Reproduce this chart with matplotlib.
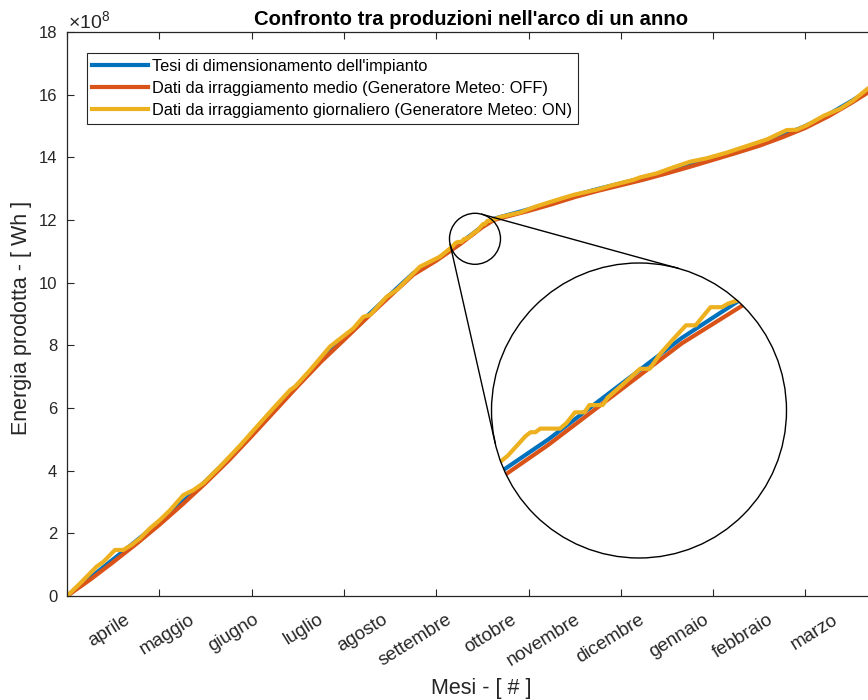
import matplotlib
matplotlib.use('Agg')
import matplotlib.pyplot as plt
from matplotlib.patches import Circle, Ellipse
from matplotlib.lines import Line2D
import numpy as np

plt.rcParams['font.family'] = ['Liberation Sans', 'DejaVu Sans']
plt.rcParams['mathtext.fontset'] = 'custom'
plt.rcParams['mathtext.rm'] = 'Liberation Sans'

# ore dal 1 aprile, energia cumulata in 1e8 Wh
ore = [0, 250, 500, 750, 1000, 1250, 1500, 1750, 2000, 2250, 2500, 2750,
       3000, 3250, 3500, 3750, 4000, 4250, 4500, 4625, 4750, 5000, 5250, 5500, 5750,
       6000, 6250, 6500, 6750, 7000, 7250, 7500, 7750, 8000, 8250, 8500, 8760]
tesi = [0.00, 0.58, 1.17, 1.76, 2.36, 3.00, 3.66, 4.38, 5.15, 5.95, 6.75, 7.52,
        8.22, 8.93, 9.62, 10.30, 10.74, 11.24, 11.80, 12.04, 12.14, 12.34, 12.56, 12.79, 12.99,
        13.17, 13.35, 13.55, 13.76, 13.98, 14.20, 14.43, 14.70, 15.00, 15.37, 15.80, 16.28]
medio = [0.00, 0.52, 1.08, 1.66, 2.27, 2.92, 3.60, 4.32, 5.10, 5.90, 6.70, 7.47,
         8.17, 8.88, 9.57, 10.25, 10.70, 11.21, 11.77, 12.00, 12.10, 12.29, 12.50, 12.73, 12.93,
         13.11, 13.29, 13.49, 13.70, 13.92, 14.14, 14.37, 14.64, 14.94, 15.31, 15.74, 16.22]

ore_giorn = [0, 141, 321, 394, 520, 610, 700, 791, 899, 1008, 1116, 1260, 1369, 1477,
             1658, 1874, 2055, 2235, 2416, 2470, 2633, 2849, 3102, 3210, 3283, 3463,
             3572, 3824, 3933, 4041, 4174, 4208, 4217, 4226, 4235, 4272, 4284, 4300,
             4318, 4327, 4352, 4361, 4392, 4422, 4440, 4459, 4483, 4508, 4526, 4554,
             4575, 4587, 4700, 4908, 5016, 5089, 5306, 5486, 5739, 5919, 6136, 6208,
             6389, 6569, 6750, 6930, 7147, 7364, 7581, 7797, 7905, 8014, 8194, 8375,
             8520, 8678, 8760]
giornaliero = [0.00, 0.40, 0.94, 1.09, 1.47, 1.47, 1.63, 1.84, 2.16, 2.43, 2.74, 3.22, 3.38, 3.60,
               4.13, 4.80, 5.40, 5.99, 6.57, 6.68, 7.21, 7.96, 8.54, 8.91, 8.97, 9.55,
               9.77, 10.51, 10.67, 10.83, 11.15, 11.26, 11.28, 11.28, 11.30, 11.30, 11.33, 11.39,
               11.39, 11.43, 11.43, 11.47, 11.55, 11.63, 11.63, 11.71, 11.79, 11.87, 11.87, 11.97,
               11.97, 11.99, 12.10, 12.24, 12.36, 12.44, 12.64, 12.80, 12.97, 13.12, 13.28, 13.36,
               13.49, 13.68, 13.86, 13.97, 14.15, 14.36, 14.57, 14.87, 14.88, 15.02, 15.32, 15.55,
               15.82, 16.20, 16.34]

mesi = ['aprile', 'maggio', 'giugno', 'luglio', 'agosto', 'settembre', 'ottobre',
        'novembre', 'dicembre', 'gennaio', 'febbraio', 'marzo']

serie = [
    (ore, tesi, '#0072BD', "Tesi di dimensionamento dell'impianto"),
    (ore, medio, '#D95319', 'Dati da irraggiamento medio (Generatore Meteo: OFF)'),
    (ore_giorn, giornaliero, '#EDB120', 'Dati da irraggiamento giornaliero (Generatore Meteo: ON)'),
]

W, H = 868, 700
grigio = '#262626'
fig = plt.figure(figsize=(W / 100, H / 100), dpi=100)
ax = fig.add_axes([67 / W, 104 / H, 808.6 / W, 564 / H])

for x, y, c, lab in serie:
    ax.plot(x, np.array(y) * 1e8, color=c, lw=3, label=lab)

ax.set_xlim(0, 8760)
ax.set_ylim(0, 18e8)
ax.set_xticks(np.arange(0, 8761, 1000))
ax.set_xticklabels([])
ax.set_yticks(np.arange(0, 19, 2) * 1e8)
ax.set_yticklabels([str(k) for k in range(0, 19, 2)])
ax.tick_params(which='both', direction='in', top=True, right=True, length=4.8,
               width=0.8, color=grigio, labelsize=12, labelcolor=grigio, pad=7)
for s in ax.spines.values():
    s.set_color(grigio)
    s.set_linewidth(0.9)

# etichette dei mesi ruotate
for i, m in enumerate(mesi):
    ax.text(620 + 697 * i, -15 / 564, m, rotation=32, rotation_mode='anchor',
            ha='right', va='top', fontsize=13.5, color=grigio,
            transform=ax.get_xaxis_transform())

fig.text(68 / W, 1 - 28 / H, r'$\mathregular{\times10^{8}}$', fontsize=14,
         color=grigio, ha='left', va='baseline')
fig.text(471 / W, 1 - 25 / H, "Confronto tra produzioni nell'arco di un anno",
         fontsize=14.6, fontweight='bold', ha='center', va='baseline')
fig.text(481 / W, 1 - 694 / H, 'Mesi - [ # ]', fontsize=15.5, color=grigio,
         ha='center', va='baseline')
fig.text(22 / W, 1 - 318 / H, 'Energia prodotta - [ Wh ]', fontsize=15.5, color=grigio,
         rotation=90, ha='center', va='center')

leg = ax.legend(loc='upper left', bbox_to_anchor=(0.0244, 0.962), borderaxespad=0,
                fontsize=11.8, fancybox=False, framealpha=1, edgecolor=grigio,
                handlelength=3.4, handletextpad=0.22, borderpad=0.35,
                labelspacing=0.42)
leg.get_frame().set_linewidth(0.8)

# zoom circolare
h0, v0 = 4420, 11.40e8
r1 = 25.5
c1 = ax.transData.transform((h0, v0))
p_h = ax.transData.transform((1000, 0))[0] - ax.transData.transform((0, 0))[0]
p_v = ax.transData.transform((0, 1e8))[1] - ax.transData.transform((0, 0))[1]
dh = r1 / p_h * 1000
dv = r1 / p_v * 1e8

c2 = np.array([639.0, H - 410.5])
r2 = 147.5
axins = fig.add_axes([(c2[0] - r2) / W, (c2[1] - r2) / H, 2 * r2 / W, 2 * r2 / H])
axins.set_axis_off()
fondo = Circle((0.5, 0.5), 0.5, transform=axins.transAxes, fc='white', ec='none', zorder=0)
axins.add_patch(fondo)
bordo = Circle((0.5, 0.5), 0.5, transform=axins.transAxes, fill=False,
               ec='black', lw=1, zorder=5, clip_on=False)
for x, y, c, lab in serie:
    ln, = axins.plot(x, np.array(y) * 1e8, color=c, lw=3, zorder=2)
    ln.set_clip_path(fondo)
axins.add_patch(bordo)
axins.set_xlim(h0 - dh, h0 + dh)
axins.set_ylim(v0 - dv, v0 + dv)

fig.add_artist(Ellipse((c1[0] / W, c1[1] / H), 2 * r1 / W, 2 * r1 / H,
                       transform=fig.transFigure, fill=False, ec='black', lw=1, zorder=6))

# tangenti esterne tra i due cerchi
d = c2 - c1
D = np.hypot(*d)
u = d / D
e = np.array([-u[1], u[0]])
a = (r2 - r1) / D
b = np.sqrt(1 - a * a)
for sgn in (1, -1):
    n = a * u + sgn * b * e
    p1 = c1 - r1 * n
    p2 = c2 - r2 * n
    fig.add_artist(Line2D([p1[0] / W, p2[0] / W], [p1[1] / H, p2[1] / H],
                          transform=fig.transFigure, color='black', lw=1, zorder=6))

fig.savefig('out.png', dpi=100)
